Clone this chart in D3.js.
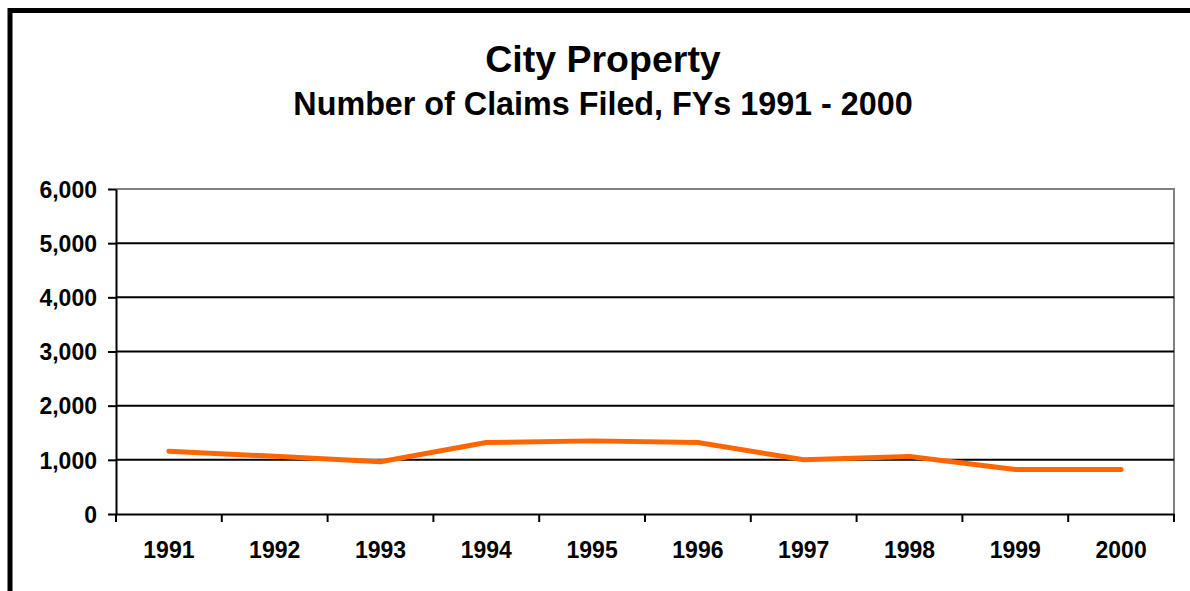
<!DOCTYPE html>
<html>
<head>
<meta charset="utf-8">
<script src="https://cdn.jsdelivr.net/npm/d3@7/dist/d3.min.js"></script>
<style>
    html, body { margin: 0; padding: 0; background: #fff; }
    svg { display: block; font-family: "Liberation Sans", Arial, sans-serif; font-weight: bold; }
    .axis path, .axis line { stroke: #000; stroke-width: 2; }
    .axis text { font-size: 23px; font-weight: bold; fill: #000; }
</style>
</head>
<body>
<div id="chart"></div>
<script>
// Chart data
const years = ['1991', '1992', '1993', '1994', '1995', '1996', '1997', '1998', '1999', '2000'];
const claims = [1160, 1065, 965, 1320, 1350, 1320, 1000, 1060, 820, 820];
const yTicks = [0, 1000, 2000, 3000, 4000, 5000, 6000];

const width = 1190, height = 591;
const margin = { top: 189, right: 16, bottom: 77, left: 116 };
const plotW = 1174 - margin.left;
const plotH = 514 - margin.top;

const svg = d3.select('#chart')
    .append('svg')
    .attr('width', width)
    .attr('height', height);

// Outer frame (runs off the right and bottom edges)
svg.append('rect')
    .attr('x', 10)
    .attr('y', 10.5)
    .attr('width', 1200)
    .attr('height', 600)
    .attr('fill', 'none')
    .attr('stroke', '#000')
    .attr('stroke-width', 5);

// Titles
svg.append('text')
    .attr('x', 603)
    .attr('y', 72)
    .attr('text-anchor', 'middle')
    .style('font-size', '37.5px')
    .text('City Property');

svg.append('text')
    .attr('x', 603)
    .attr('y', 115)
    .attr('text-anchor', 'middle')
    .style('font-size', '32.3px')
    .text('Number of Claims Filed, FYs 1991 - 2000');

const g = svg.append('g')
    .attr('transform', `translate(${margin.left},${margin.top})`);

const x = d3.scaleBand()
    .domain(years)
    .range([0, plotW]);

const y = d3.scaleLinear()
    .domain([0, 6000])
    .range([plotH, 0]);

// Plot border (gray top and right)
g.append('path')
    .attr('d', `M0,${y(6000)}H${plotW}V${plotH}`)
    .attr('fill', 'none')
    .attr('stroke', '#808080')
    .attr('stroke-width', 2);

// Horizontal gridlines
g.selectAll('.grid')
    .data(yTicks.filter(d => d > 0 && d < 6000))
    .enter()
    .append('line')
    .attr('class', 'grid')
    .attr('x1', 0)
    .attr('x2', plotW)
    .attr('y1', d => y(d))
    .attr('y2', d => y(d))
    .attr('stroke', '#000')
    .attr('stroke-width', 2);

// Y axis
const yAxis = g.append('g')
    .attr('class', 'axis')
    .call(d3.axisLeft(y)
        .tickValues(yTicks)
        .tickFormat(d3.format(','))
        .tickSize(8)
        .tickPadding(11)
        .tickSizeOuter(0));
yAxis.selectAll('text').attr('dy', '0.36em');

// X axis: labels centered in bands, ticks at band edges
const xAxis = g.append('g')
    .attr('class', 'axis')
    .attr('transform', `translate(0,${plotH})`)
    .call(d3.axisBottom(x).tickSize(0).tickPadding(28).tickSizeOuter(0));
xAxis.selectAll('.tick line').remove();

const edges = years.map(d => x(d)).concat([x(years[years.length - 1]) + x.bandwidth()]);
xAxis.selectAll('.edge')
    .data(edges)
    .enter()
    .append('line')
    .attr('class', 'edge')
    .attr('x1', d => d)
    .attr('x2', d => d)
    .attr('y1', 0)
    .attr('y2', 8)
    .attr('stroke', '#000')
    .attr('stroke-width', 2);

// Claims line
const line = d3.line()
    .x((d, i) => x(years[i]) + x.bandwidth() / 2)
    .y(d => y(d));

g.append('path')
    .datum(claims)
    .attr('d', line)
    .attr('fill', 'none')
    .attr('stroke', '#FF6600')
    .attr('stroke-width', 5)
    .attr('stroke-linejoin', 'round')
    .attr('stroke-linecap', 'round');
</script>
</body>
</html>
